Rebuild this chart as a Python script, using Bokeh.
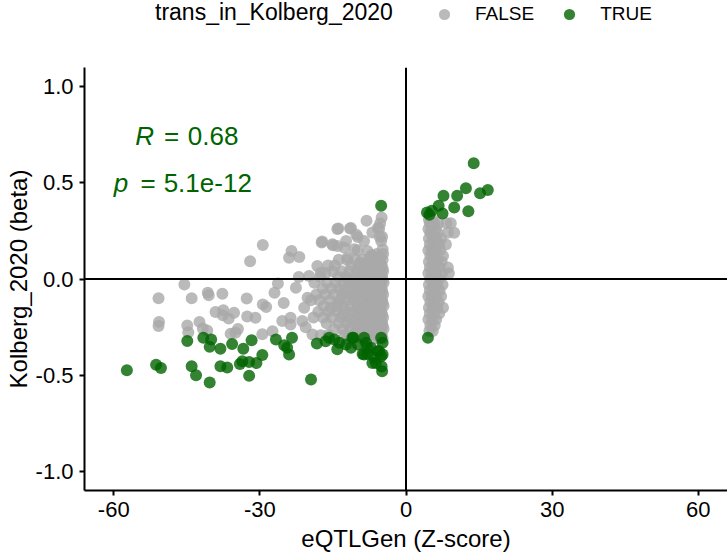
from bokeh.plotting import figure
from bokeh.layouts import column
from bokeh.models import (Span, Label, Legend, LegendItem, FixedTicker,
                          NumeralTickFormatter, ColumnDataSource, Range1d)
from bokeh.embed import file_html
from bokeh.resources import INLINE

FONT = "Liberation Sans"

# ---------------- data ----------------
# gray (trans_in_Kolberg_2020 == FALSE), sparse part
false_sparse_x = [-50.8, -50.7, -50.8, -45.5, -44.0, -44.9, -44.7, -42.4, -41.7, -40.8,
                  -40.7, -40.5, -37.7, -39.1, -37.5, -37.6, -36.4, -35.3, -32.7, -32.6,
                  -36.0, -35.0, -34.5, -32.0, -29.4, -30.9, -29.4, -28.7, -26.3, -27.0,
                  -25.1, -27.4, -29.5, -25.4, -23.7, -21.3, -23.7, -20.6, -19.2, -17.5,
                  -23.5, -24.0, -21.9, -17.3, -15.1, -14.1, -18.2, -17.5, -22.0, -19.9,
                  -22.6, -20.9, -20.2, -15.4, -13.9, -15.0, -17.2, -11.5, -8.1, -5.5,
                  -9.9, -12.7, -9.9, -12.0, -11.3, -5.8, -6.9, -12.3, -8.6, -5.1,
                  -14.1, -10.6, -7.9, -4.8, -16.5, -5.3, -7.0, -10.2, -5.0, -4.9,
                  -5.4, -4.7, -6.0]
false_sparse_y = [-0.100, -0.223, -0.244, -0.028, -0.100, -0.242, -0.277, -0.223, -0.258, -0.268,
                  -0.071, -0.085, -0.077, -0.172, -0.162, -0.188, -0.205, -0.176, -0.101, -0.195,
                  -0.285, -0.280, -0.260, 0.092, 0.177, -0.202, -0.132, -0.146, -0.023, -0.071,
                  -0.125, -0.272, -0.287, -0.219, -0.202, -0.219, -0.237, -0.251, -0.289, -0.292,
                  0.146, 0.111, 0.115, 0.190, 0.181, 0.260, 0.068, 0.033, 0.010, 0.016,
                  -0.045, -0.150, -0.097, -0.150, 0.263, 0.176, 0.195, 0.263, 0.303, 0.263,
                  0.219, 0.164, 0.150, 0.111, 0.265, 0.265, 0.242, 0.198, 0.198, 0.198,
                  0.172, 0.155, 0.146, 0.155, 0.033, 0.290, 0.125, 0.230, 0.320, 0.220,
                  0.220, 0.130, 0.130]

# gray dense cluster left of zero: rows of (beta, Z-scores in that row)
false_dense_left = [
    (0.115, [-5.2, -6.2, -7.3]),
    (0.10, [-4.8, -5.6, -6.5, -7.6, -9.0, -10.4, -12.1, -13.8]),
    (0.085, [-5.3, -6.4, -7.9, -9.4]),
    (0.07, [-5.0, -6.0, -7.1, -8.3, -9.7, -11.2, -14.6, -16.0]),
    (0.055, [-4.8, -5.7, -6.9, -8.5]),
    (0.04, [-4.7, -5.4, -6.3, -7.4, -8.7, -10.1, -11.6, -13.2, -15.0]),
    (0.025, [-5.2, -6.4, -7.6, -9.9]),
    (0.01, [-4.9, -5.8, -6.8, -7.9, -9.2, -10.6, -12.3, -13.9, -17.6]),
    (-0.005, [-4.8, -5.9, -7.0, -8.8, -11.9]),
    (-0.02, [-4.6, -5.3, -6.1, -7.2, -8.4, -9.8, -11.3, -12.8, -14.5, -16.2, -18.8]),
    (-0.035, [-5.3, -6.5, -7.8, -10.1]),
    (-0.05, [-5.0, -5.9, -6.9, -8.0, -9.3, -10.7, -12.2, -13.6, -15.3, -17.1]),
    (-0.065, [-4.9, -6.0, -7.2, -9.6, -12.8]),
    (-0.08, [-4.7, -5.5, -6.4, -7.5, -8.8, -10.2, -11.7, -13.1, -14.8, -16.6, -18.4]),
    (-0.095, [-5.2, -6.3, -7.9, -11.0]),
    (-0.11, [-4.9, -5.7, -6.7, -7.8, -9.1, -10.5, -12.0, -13.5, -15.6, -17.8, -19.5]),
    (-0.125, [-4.8, -5.9, -7.1, -9.0, -13.9]),
    (-0.14, [-4.6, -5.4, -6.2, -7.3, -8.5, -9.9, -11.4, -12.9, -14.2, -16.9]),
    (-0.155, [-5.3, -6.6, -8.0, -10.1]),
    (-0.17, [-5.1, -6.0, -7.0, -8.1, -9.4, -10.8, -12.4, -14.0, -15.9, -18.0]),
    (-0.185, [-4.9, -6.0, -7.3, -9.7, -12.9]),
    (-0.20, [-4.7, -5.5, -6.5, -7.6, -8.9, -10.3, -11.9, -13.4, -15.2, -17.0, -19.0]),
    (-0.215, [-5.2, -6.4, -8.3, -11.2]),
    (-0.23, [-4.9, -5.8, -6.8, -7.9, -9.2, -10.6, -12.1, -13.8, -16.3]),
    (-0.245, [-4.8, -5.9, -7.0, -9.5]),
    (-0.26, [-4.6, -5.3, -6.2, -7.3, -8.6, -10.0, -11.5, -13.0, -14.7]),
    (-0.275, [-5.2, -6.3, -7.6, -10.4]),
    (-0.29, [-5.0, -5.9, -7.0, -8.2, -9.6, -11.1, -12.6, -15.9]),
    (-0.31, [-4.8, -5.6, -6.6, -9.0, -12.0]),
]

# gray dense cluster right of zero
false_dense_right = [
    (0.31, [4.7, 5.4]),
    (0.29, [4.9, 5.8, 6.6, 8.3, 9.2]),
    (0.26, [4.6, 5.3, 6.1]),
    (0.24, [5.0, 6.5, 8.6, 9.9]),
    (0.21, [4.7, 5.5, 6.3, 7.2]),
    (0.18, [4.9, 5.8, 6.8, 8.2]),
    (0.15, [4.6, 5.3, 6.1, 7.0]),
    (0.12, [5.0, 5.9, 7.6]),
    (0.09, [4.7, 5.5, 6.4, 7.3]),
    (0.06, [4.9, 5.8, 6.9, 8.6]),
    (0.03, [4.6, 5.3, 6.2, 7.4, 8.8]),
    (0.00, [5.0, 5.9, 6.8]),
    (-0.03, [4.7, 5.5, 6.4, 7.5]),
    (-0.06, [4.9, 5.8, 6.9]),
    (-0.09, [4.6, 5.3, 6.2, 7.2]),
    (-0.12, [5.0, 5.9, 6.7]),
    (-0.15, [4.7, 5.5, 6.4, 7.6]),
    (-0.18, [4.9, 5.8, 6.8]),
    (-0.21, [4.6, 5.4, 6.2]),
    (-0.24, [5.0, 5.9]),
    (-0.27, [4.8, 5.5]),
]

# green (trans_in_Kolberg_2020 == TRUE)
true_x = [-57.3, -51.3, -50.3, -44.9, -44.0, -43.1, -41.6, -40.0, -40.3, -40.3,
          -38.1, -38.1, -36.7, -35.7, -34.1, -33.6, -33.4, -32.2, -32.2, -31.7,
          -30.7, -29.5, -26.7, -25.0, -24.4, -24.0, -23.4, -19.5, -18.3, -16.5,
          -15.8, -14.1, -13.7, -10.8, -9.9, -8.9, -8.2, -7.9, -7.2, -6.5,
          -6.2, -5.5, -5.1, -4.8, -4.8, -4.9, -5.1, -14.7, -12.3, -11.0,
          -8.6, -8.6, -6.9, -5.8, -5.1, -11.3, -7.9, -5.0,
          13.9, 12.3, 7.7, 10.5, 15.2, 16.8, 9.9, 12.8, 6.7, 4.3,
          5.3, 7.5, 4.8, 4.5]
true_y = [-0.475, -0.446, -0.463, -0.322, -0.454, -0.501, -0.306, -0.315, -0.353, -0.538,
          -0.363, -0.454, -0.460, -0.338, -0.442, -0.428, -0.363, -0.503, -0.432, -0.319,
          -0.437, -0.395, -0.315, -0.345, -0.358, -0.393, -0.306, -0.523, -0.335, -0.324,
          -0.306, -0.365, -0.332, -0.306, -0.341, -0.390, -0.332, -0.390, -0.358, -0.411,
          -0.437, -0.376, -0.306, -0.332, -0.393, -0.480, 0.381, -0.315, -0.341, -0.306,
          -0.306, -0.393, -0.437, -0.376, -0.402, -0.358, -0.358, -0.455,
          0.602, 0.472, 0.433, 0.433, 0.446, 0.463, 0.372, 0.352, 0.381, 0.346,
          0.355, 0.341, 0.334, -0.306]

x_ticks = [-60, -30, 0, 30, 60]
y_ticks = [-1.0, -0.5, 0.0, 0.5, 1.0]
legend_labels = ["FALSE", "TRUE"]
legend_title = "trans_in_Kolberg_2020"
r_value = "0.68"
p_value = "5.1e-12"

GRAY = "#a9a9a9"
GREEN = "#006400"

# ---------------- assemble gray table ----------------
false_x = list(false_sparse_x)
false_y = list(false_sparse_y)
for beta, zs in false_dense_left + false_dense_right:
    for z in zs:
        false_x.append(z)
        false_y.append(beta)

src_false = ColumnDataSource(dict(x=false_x, y=false_y))
src_true = ColumnDataSource(dict(x=true_x, y=true_y))

# ---------------- legend strip (separate figure on top) ----------------
# Its ranges are far away from the data, so only the legend shows there.
HEAD_H = 32
head = figure(width=727, height=HEAD_H, output_backend="svg", toolbar_location=None,
              x_range=Range1d(1000, 1001), y_range=Range1d(1000, 1001),
              min_border_left=0, min_border_right=0, min_border_top=0, min_border_bottom=0)
head.axis.visible = False
head.grid.visible = False
head.outline_line_color = None
head.background_fill_color = "white"
head.border_fill_color = "white"

h_title = head.scatter(x=[], y=[], size=0, fill_alpha=0, line_alpha=0)
h_false = head.scatter("x", "y", source=src_false, size=12, fill_color=GRAY,
                       fill_alpha=0.8, line_color=None)
h_true = head.scatter("x", "y", source=src_true, size=12, fill_color=GREEN,
                      fill_alpha=0.8, line_color=None)

# the strip's frame is aligned with the main plot frame (starts at x=84)
title_legend = Legend(items=[LegendItem(label=legend_title, renderers=[h_title])],
                      orientation="horizontal", location=(71, 6),
                      padding=0, margin=0, spacing=0, label_standoff=0,
                      glyph_width=0, glyph_height=26, label_height=26,
                      border_line_color=None, background_fill_alpha=0,
                      label_text_font=FONT, label_text_font_size="23px",
                      label_text_color="black")
head.add_layout(title_legend)

items_legend = Legend(items=[LegendItem(label=legend_labels[0], renderers=[h_false], index=0),
                             LegendItem(label=legend_labels[1], renderers=[h_true], index=0)],
                      orientation="horizontal", location=(346, 4),
                      padding=0, margin=0, spacing=21, label_standoff=17,
                      glyph_width=28, glyph_height=28,
                      border_line_color=None, background_fill_alpha=0,
                      label_text_font=FONT, label_text_font_size="19px",
                      label_text_color="black")
head.add_layout(items_legend)

# ---------------- main scatter ----------------
p = figure(width=727, height=556 - HEAD_H, output_backend="svg", toolbar_location=None,
           x_range=Range1d(-66, 66), y_range=Range1d(-1.1, 1.1),
           min_border_left=84, min_border_right=0, min_border_top=67 - HEAD_H,
           min_border_bottom=66)
p.outline_line_color = None
p.xgrid.visible = False
p.ygrid.visible = False
p.background_fill_color = "white"
p.border_fill_color = "white"

p.add_layout(Span(location=0, dimension="width", line_color="black", line_width=2))
p.add_layout(Span(location=0, dimension="height", line_color="black", line_width=2))

p.scatter("x", "y", source=src_false, size=12, fill_color=GRAY,
          fill_alpha=0.8, line_color=None)
p.scatter("x", "y", source=src_true, size=12, fill_color=GREEN,
          fill_alpha=0.8, line_color=None)

for ax in (p.xaxis[0], p.yaxis[0]):
    ax.axis_line_color = "black"
    ax.axis_line_width = 2
    ax.major_tick_line_color = "black"
    ax.major_tick_line_width = 2
    ax.major_tick_in = 0
    ax.major_tick_out = 5
    ax.minor_tick_line_color = None
    ax.major_label_text_font = FONT
    ax.major_label_text_font_size = "22px"
    ax.major_label_text_color = "black"
    ax.axis_label_text_font = FONT
    ax.axis_label_text_font_size = "24px"
    ax.axis_label_text_font_style = "normal"
    ax.axis_label_text_color = "black"

p.xaxis.ticker = FixedTicker(ticks=x_ticks)
p.yaxis.ticker = FixedTicker(ticks=y_ticks)
p.xaxis.formatter = NumeralTickFormatter(format="0")
p.yaxis.formatter = NumeralTickFormatter(format="0.0")
p.xaxis.axis_label = "eQTLGen (Z-score)"
p.yaxis.axis_label = "Kolberg_2020 (beta)"
p.xaxis.major_label_standoff = 6
p.xaxis.axis_label_standoff = 5
p.yaxis.major_label_standoff = 6
p.yaxis.axis_label_standoff = 1

# correlation annotation
ann = [("R", -55.6, 0.742, "italic"), ("=", -49.7, 0.742, "normal"), (r_value, -44.8, 0.742, "normal"),
       ("p", -60.0, 0.501, "italic"), ("=", -54.5, 0.501, "normal"), (p_value, -49.75, 0.501, "normal")]
for txt, xx, yy, style in ann:
    p.add_layout(Label(x=xx, y=yy, text=txt, text_font=FONT, text_font_size="26px",
                       text_font_style=style, text_color=GREEN, text_baseline="alphabetic",
                       text_align="left"))

layout = column(head, p, spacing=0)
open("out.html", "w").write(file_html(layout, INLINE))
